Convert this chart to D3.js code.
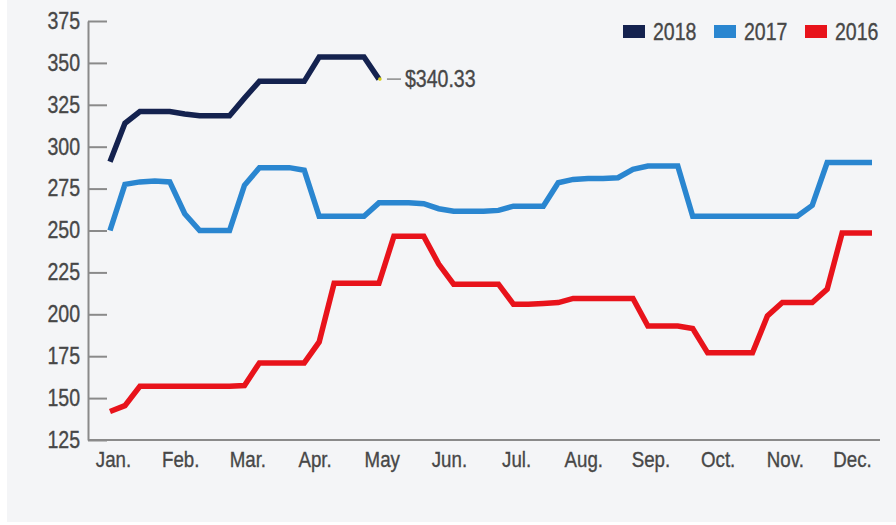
<!DOCTYPE html>
<html>
<head>
<meta charset="utf-8">
<script src="https://cdn.jsdelivr.net/npm/d3@7"></script>
<style>
  body { margin: 0; background: #fff; }
  text { font-family: "Liberation Sans", Arial, sans-serif; }
</style>
</head>
<body>
<div class="js-chart"></div>
<script>
// weekly prices, one value per week
let years = ["2018", "2017", "2016"];
let colors = { "2018": "#14224f", "2017": "#2a86d0", "2016": "#e8131b" };
let months = ["Jan.", "Feb.", "Mar.", "Apr.", "May", "Jun.", "Jul.", "Aug.", "Sep.", "Oct.", "Nov.", "Dec."];
let yTicks = [125, 150, 175, 200, 225, 250, 275, 300, 325, 350, 375];

let prices2018 = [291, 314, 321, 321, 321, 319.5, 318.5, 318.5, 318.5, 329, 339, 339, 339, 339,
  353.5, 353.5, 353.5, 353.5, 340.33];
let prices2017 = [250, 277.5, 279, 279.5, 279, 260, 250, 250, 250, 277, 287.5, 287.5, 287.5, 286,
  258.5, 258.5, 258.5, 258.5, 266.5, 266.5, 266.5, 266, 263, 261.5, 261.5, 261.5, 262, 264.5, 264.5,
  264.5, 278.5, 280.5, 281, 281, 281.5, 286.5, 288.5, 288.5, 288.5, 258.5, 258.5, 258.5, 258.5,
  258.5, 258.5, 258.5, 258.5, 265, 290.5, 290.5, 290.5, 290.5];
let prices2016 = [142, 145.5, 157, 157, 157, 157, 157, 157, 157, 157.5, 171, 171, 171, 171, 183.5,
  218.5, 218.5, 218.5, 218.5, 246.5, 246.5, 246.5, 230, 218, 218, 218, 218, 206, 206, 206.5, 207,
  209.5, 209.5, 209.5, 209.5, 209.5, 193, 193, 193, 191.5, 177, 177, 177, 177, 199, 207, 207, 207,
  215, 248.5, 248.5, 248.5];
let lastLabel = "$340.33";

var SQUEEZE = 0.85; // fake a condensed face

// move a text's x into a transform so it can be squeezed horizontally
function condense(sel, size) {
  sel.each(function () {
    var t = d3.select(this);
    var tx = +t.attr('x') || 0;
    t.attr('x', 0)
      .attr('transform', `translate(${tx},0) scale(${SQUEEZE},1)`)
      .style('font-size', size + 'px')
      .attr('fill', '#474747')
      .attr('stroke', '#474747')
      .attr('stroke-width', 0.35);
  });
}

function createChart() {
  var width = 896;
  var height = 525;
  var margin = { top: 21, right: 16, bottom: 85, left: 88 };
  var series = { "2018": prices2018, "2017": prices2017, "2016": prices2016 };

  var svg = d3.select('.js-chart').append('svg')
    .attr('width', width)
    .attr('height', height);

  // grey panel
  svg.append('rect')
    .attr('x', 7)
    .attr('y', 0)
    .attr('width', width - 7)
    .attr('height', height - 3)
    .attr('fill', '#f4f5f7');

  var x = d3.scaleLinear()
    .domain([0, 51])
    .range([margin.left + 22, width - margin.right - 8]);
  var y = d3.scaleLinear()
    .domain([125, 375])
    .range([height - margin.bottom, margin.top]);
  var xMonth = d3.scalePoint()
    .domain(months)
    .range([margin.left + 25, margin.left + 764]);

  // y axis, ticks pointing into the plot
  var yAxis = svg.append('g')
    .attr('transform', `translate(${margin.left},0)`)
    .call(d3.axisLeft(y).tickValues(yTicks).tickSizeInner(-19).tickSizeOuter(0).tickPadding(8));
  yAxis.selectAll('line, path').attr('stroke', '#8a8a8a').attr('stroke-width', 2);
  condense(yAxis.selectAll('text'), 23);

  // x axis line
  svg.append('line')
    .attr('x1', margin.left)
    .attr('x2', width - margin.right)
    .attr('y1', y(125))
    .attr('y2', y(125))
    .attr('stroke', '#8a8a8a')
    .attr('stroke-width', 2);

  var xAxis = svg.append('g')
    .attr('transform', `translate(0,${y(125)})`)
    .call(d3.axisBottom(xMonth).tickSize(0).tickPadding(11));
  xAxis.select('.domain').remove();
  condense(xAxis.selectAll('text'), 22);

  var line = d3.line()
    .x((d, i) => x(i))
    .y((d) => y(d))
    .curve(d3.curveLinear);

  // draw oldest first so 2018 sits on top
  years.slice().reverse().forEach((yr) => {
    svg.append('path')
      .datum(series[yr])
      .attr('fill', 'none')
      .attr('stroke', colors[yr])
      .attr('stroke-width', 5.5)
      .attr('stroke-linejoin', 'miter')
      .attr('d', line);
  });

  // end point label for 2018
  var lastI = prices2018.length - 1;
  var lastV = prices2018[lastI];
  svg.append('circle')
    .attr('cx', x(lastI) + 1)
    .attr('cy', y(lastV))
    .attr('r', 1.8)
    .attr('fill', '#d8cf1a');
  svg.append('line')
    .attr('x1', x(lastI) + 8)
    .attr('x2', x(lastI) + 22)
    .attr('y1', y(lastV))
    .attr('y2', y(lastV))
    .attr('stroke', '#8a8a8a')
    .attr('stroke-width', 1.5);
  svg.append('text')
    .attr('x', x(lastI) + 26)
    .attr('y', y(lastV))
    .attr('dy', '0.35em')
    .text(lastLabel)
    .call(condense, 23);

  // legend
  var legend = svg.append('g')
    .attr('transform', 'translate(623,25)')
    .selectAll('.legend-item')
    .data(years)
    .enter()
    .append('g')
    .attr('transform', (d, i) => `translate(${i * 91},0)`);
  legend.append('rect')
    .attr('width', 22)
    .attr('height', 13)
    .attr('fill', (d) => colors[d]);
  legend.append('text')
    .attr('x', 30)
    .attr('y', 7)
    .attr('dy', '0.35em')
    .text((d) => d)
    .call(condense, 23);
}

createChart();
</script>
</body>
</html>
